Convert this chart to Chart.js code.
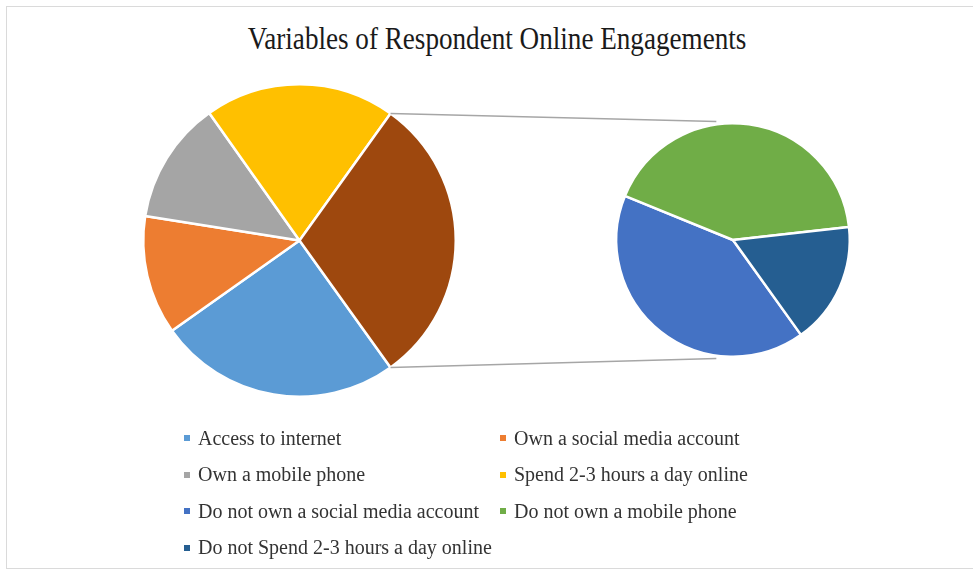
<!DOCTYPE html>
<html>
<head>
<meta charset="utf-8">
<script src="https://cdn.jsdelivr.net/npm/chart.js@4.4.0/dist/chart.umd.min.js"></script>
<style>
  body { margin: 0; background: #fff; }
  #wrap { position: relative; width: 973px; height: 572px; overflow: hidden; background: #fff; }
  #frame { position: absolute; left: 6px; top: 6px; width: 1000px; height: 561px; border: 1px solid #dadada; }
  #wrap canvas { position: absolute; left: 0; top: 0; }
  #title {
    position: absolute; top: 21px; left: 0; width: 994px; text-align: center;
    font-family: "Liberation Serif", "Times New Roman", serif; font-size: 31px; color: #1a1a1a;
    transform: scaleX(0.875); transform-origin: 497px 0;
  }
  #legend {
    position: absolute; left: 184px; top: 420px;
    display: grid; grid-template-columns: 316px 316px; grid-auto-rows: 36.5px;
    font-family: "Liberation Serif", "Times New Roman", serif; font-size: 20px; color: #333;
  }
  #legend .item { display: flex; align-items: center; white-space: nowrap; }
  #legend .box { width: 6px; height: 6px; margin-right: 8px; }
</style>
</head>
<body>
<div id="wrap">
  <div id="frame"></div>
  <div id="title">Variables of Respondent Online Engagements</div>
  <canvas id="mainPie" width="973" height="572"></canvas>
  <canvas id="subPie" width="973" height="572"></canvas>
  <div id="legend"></div>
</div>
<script>
// main pie slices
const mainLabels = ['Access to internet', 'Own a social media account', 'Own a mobile phone', 'Spend 2-3 hours a day online'];
const mainValues = [25.1, 12.3, 12.7, 19.7];
const mainColors = ['#5B9BD5', '#ED7D31', '#A5A5A5', '#FFC000'];

// second pie (the "other" slice split up)
const subLabels = ['Do not own a social media account', 'Do not own a mobile phone', 'Do not Spend 2-3 hours a day online'];
const subValues = [12.4, 12.7, 5.1];
const subColors = ['#4472C4', '#70AD47', '#255E91'];

const otherColor = '#9E480E';

const otherTotal = subValues.reduce((a, b) => a + b, 0);
const grandTotal = mainValues.reduce((a, b) => a + b, 0) + otherTotal;
// excel puts the "other" slice centred on the right side
const startRot = 90 + 180 * otherTotal / grandTotal;

const mainChart = new Chart(document.getElementById('mainPie'), {
    type: 'pie',
    data: {
        labels: [...mainLabels, 'Other'],
        datasets: [{
            data: [...mainValues, otherTotal],
            backgroundColor: [...mainColors, otherColor],
            borderColor: '#ffffff',
            borderWidth: 2.5
        }]
    },
    options: {
        responsive: false,
        animation: false,
        rotation: startRot,
        layout: { padding: { left: 142, right: 516, top: 83, bottom: 174 } },
        plugins: { legend: { display: false } }
    }
});

const connectorLines = {
    id: 'connectorLines',
    beforeDatasetsDraw(chart) {
        const other = mainChart.getDatasetMeta(0).data[mainValues.length];
        const sub = chart.getDatasetMeta(0).data[0];
        if (!other || !sub) return;
        const r1 = other.outerRadius;
        const r2 = sub.outerRadius + 3;
        const a = 98 * Math.PI / 180;
        const ctx = chart.ctx;
        ctx.save();
        ctx.strokeStyle = '#a6a6a6';
        ctx.lineWidth = 1.5;
        ctx.beginPath();
        ctx.moveTo(other.x + r1 * Math.cos(other.startAngle), other.y + r1 * Math.sin(other.startAngle));
        ctx.lineTo(sub.x + r2 * Math.cos(-a), sub.y + r2 * Math.sin(-a));
        ctx.moveTo(other.x + r1 * Math.cos(other.endAngle), other.y + r1 * Math.sin(other.endAngle));
        ctx.lineTo(sub.x + r2 * Math.cos(a), sub.y + r2 * Math.sin(a));
        ctx.stroke();
        ctx.restore();
    }
};

const subChart = new Chart(document.getElementById('subPie'), {
    type: 'pie',
    data: {
        labels: subLabels,
        datasets: [{
            data: subValues,
            backgroundColor: subColors,
            borderColor: '#ffffff',
            borderWidth: 2.5
        }]
    },
    options: {
        responsive: false,
        animation: false,
        rotation: startRot,
        layout: { padding: { left: 615, right: 122, top: 122, bottom: 214 } },
        plugins: { legend: { display: false } }
    },
    plugins: [connectorLines]
});

// html legend, two columns like the excel one
const legendEl = document.getElementById('legend');
const allLabels = [...mainLabels, ...subLabels];
const allColors = [...mainColors, ...subColors];
allLabels.forEach((lab, i) => {
    const item = document.createElement('div');
    item.className = 'item';
    const box = document.createElement('span');
    box.className = 'box';
    box.style.background = allColors[i];
    const txt = document.createElement('span');
    txt.textContent = lab;
    item.appendChild(box);
    item.appendChild(txt);
    legendEl.appendChild(item);
});
</script>
</body>
</html>
